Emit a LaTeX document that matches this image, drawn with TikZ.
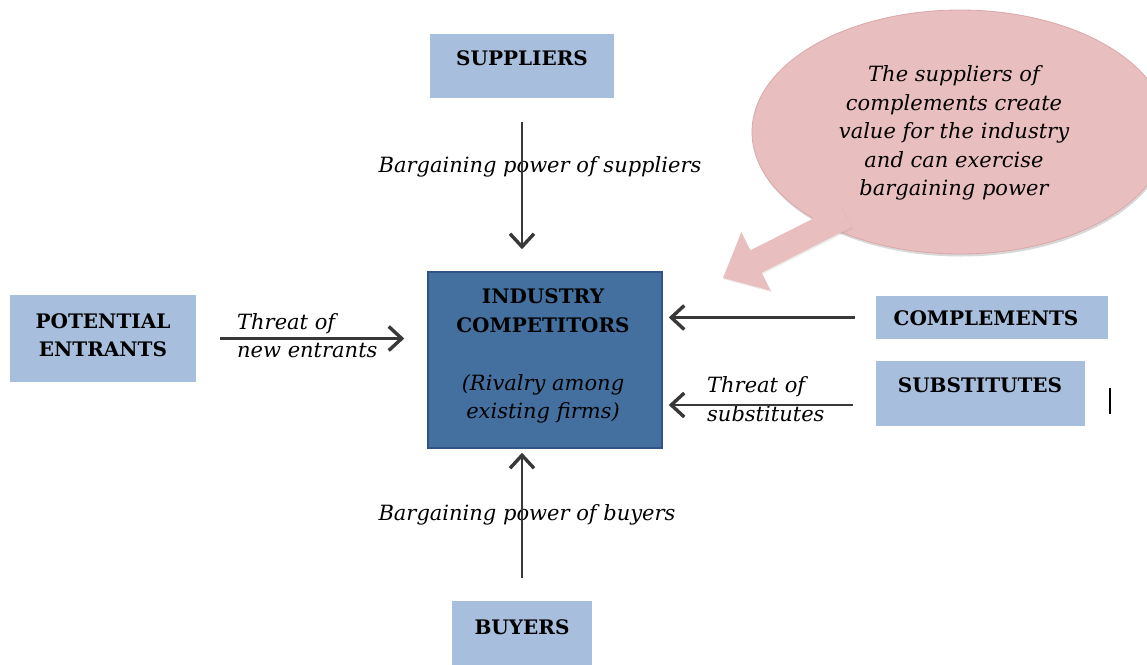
\documentclass[tikz,border=0pt]{standalone}
\usepackage{fontspec}
\setmainfont{DejaVu Serif}
\usetikzlibrary{arrows.meta,shapes.geometric,shadows}
\definecolor{boxblue}{HTML}{A7BEDC}
\definecolor{darkblue}{HTML}{44709F}
\definecolor{darkblueline}{HTML}{2E5585}
\definecolor{pinkfill}{HTML}{E9BEBE}
\definecolor{pinkline}{HTML}{D9A8A8}
\begin{document}
\begin{tikzpicture}[x=1pt,y=-1pt,
  lightbox/.style={fill=boxblue, draw=none, inner sep=0pt},
  caps/.style={font=\fontsize{20}{28.5}\selectfont\bfseries, align=center, inner sep=0pt},
  lbl/.style={font=\fontsize{21}{28.5}\selectfont\itshape, inner sep=0pt},
  force/.style={draw=black!78, line width=2.2pt, -{Straight Barb[length=13pt,width=24pt,line width=3.4pt]}},
  pinkshape/.style={fill=pinkfill, draw=pinkline, line width=0.8pt},
]
\useasboundingbox (0,0) rectangle (1147,664);

% callout
\node[ellipse, pinkshape, drop shadow={opacity=0.3, shadow xshift=1pt, shadow yshift=-2.5pt}, minimum width=416pt, minimum height=244pt] (bubble) at (960,132) {};
\path[fill=pinkfill, drop shadow={opacity=0.15, shadow xshift=1pt, shadow yshift=-1.5pt}] (840.4,204.8) -- (750.4,250.3) -- (741.3,232.3) -- (723,278) -- (770.7,290.7) -- (761.6,272.7) -- (851.6,227.2) -- cycle;
\node[lbl, align=center] (bubtext) at (954,133) {The suppliers of\\complements create\\value for the industry\\and can exercise\\bargaining power};

% boxes
\node[lightbox, minimum width=184pt, minimum height=64pt] (sup) at (522,66) {};
\node[caps] (suptext) at (522,58) {SUPPLIERS};

\node[fill=darkblue, draw=darkblueline, line width=1.5pt, minimum width=234pt, minimum height=176pt] (ind) at (545,360) {};
\node[caps] (indtext) at (543,310.5) {INDUSTRY\\COMPETITORS};
\node[lbl, align=center] (rivtext) at (543,399) {(Rivalry among\\existing firms)};

\node[lightbox, minimum width=186pt, minimum height=87pt] (ent) at (103,338.5) {};
\node[caps] (enttext) at (103,335) {POTENTIAL\\ENTRANTS};

\node[lightbox, minimum width=232pt, minimum height=43pt] (comp) at (992,317.5) {};
\node[caps] (comptext) at (986,318) {COMPLEMENTS};

\node[lightbox, minimum width=209pt, minimum height=65pt] (subs) at (980.5,393.5) {};
\node[caps] (substext) at (980,385) {SUBSTITUTES};

\node[lightbox, minimum width=140pt, minimum height=70pt] (buy) at (522,636) {};
\node[caps] (buytext) at (522,627) {BUYERS};

% labels
\node[lbl] (suplbl) at (540,167) {Bargaining power of suppliers};
\node[lbl] (buylbl) at (527,515) {Bargaining power of buyers};
\node[lbl, align=left, anchor=west] (entlbl) at (237,335.5) {Threat of\\new entrants};
\node[lbl, align=left, anchor=west] (sublbl) at (707,399) {Threat of\\substitutes};

% connectors
\draw[force, shorten <=24pt, shorten >=22pt] (sup.south) -- (sup.south |- ind.north);
\draw[force, shorten <=23pt, shorten >=4pt] (buy.north) -- (buy.north |- ind.south);
\draw[force, shorten <=24pt, shorten >=23pt] (ent.east) -- (ent.east -| ind.west);
\draw[force, shorten <=21pt, shorten >=6pt] (comp.west) -- (comp.west -| ind.east);
\coordinate (subsarr) at ([yshift=-11.5pt]subs.west);
\draw[force, shorten <=23pt, shorten >=6pt] (subsarr) -- (subsarr -| ind.east);

% text cursor mark
\draw[line width=1.5pt] (1110,388) -- (1110,414);
\end{tikzpicture}
\end{document}
